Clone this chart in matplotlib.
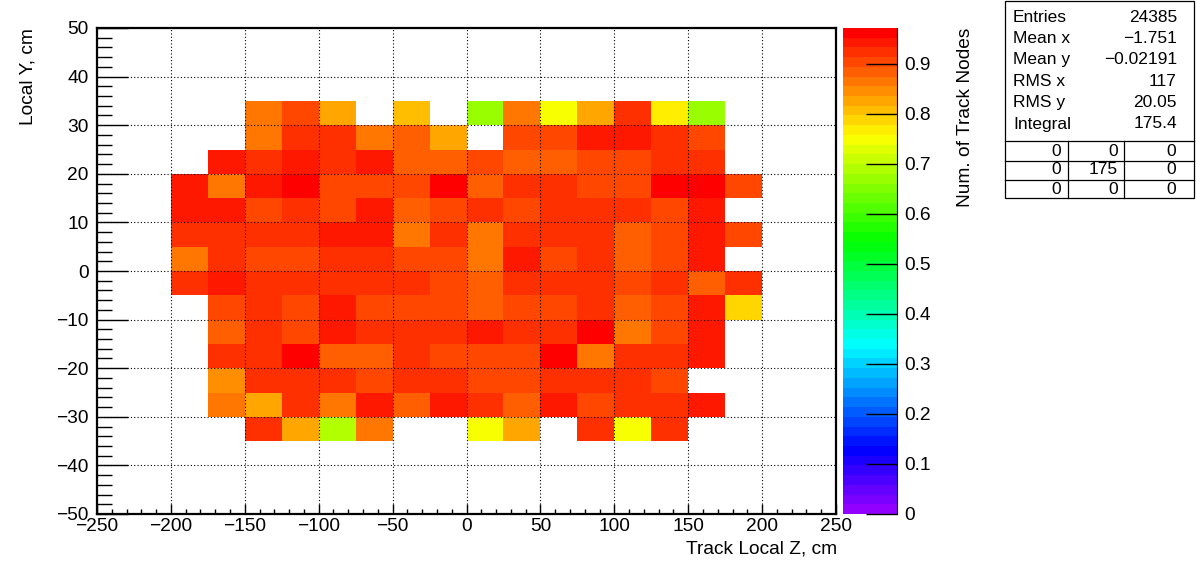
import colorsys
import numpy as np
import matplotlib
matplotlib.use("Agg")
import matplotlib.pyplot as plt
from matplotlib.colors import ListedColormap, Normalize
from matplotlib.patches import Rectangle
from matplotlib.lines import Line2D
from matplotlib.ticker import MultipleLocator

plt.rcParams['font.family'] = ['Liberation Sans', 'DejaVu Sans']

nan = np.nan
# bin edges
x_edges = np.arange(-200, 201, 25)
y_edges = np.arange(-35, 36, 5)

# fraction per cell, rows listed from top (30..35) to bottom (-35..-30)
rows_top_down = [
    [nan, nan, .866, .904, .826, nan, .807, nan, .67, .866, .748, .826, .925, .768, .67, nan],
    [nan, nan, .866, .925, .925, .866, .885, .826, nan, .904, .904, .945, .945, .925, .904, nan],
    [nan, .945, .925, .945, .925, .945, .885, .885, .904, .885, .885, .904, .904, .925, .925, nan],
    [.945, .866, .945, .965, .904, .904, .904, .965, .885, .925, .925, .904, .904, .965, .972, .904],
    [.945, .945, .904, .925, .904, .945, .885, .904, .925, .904, .925, .925, .925, .904, .945, nan],
    [.925, .925, .925, .925, .945, .945, .866, .925, .866, .925, .925, .925, .885, .904, .945, .904],
    [.866, .925, .904, .904, .925, .925, .904, .904, .866, .945, .904, .925, .885, .904, .945, nan],
    [.925, .945, .925, .925, .925, .925, .925, .904, .885, .925, .925, .925, .904, .925, .885, .925],
    [nan, .904, .925, .904, .945, .904, .904, .904, .885, .904, .904, .925, .885, .904, .945, .787],
    [nan, .885, .925, .904, .945, .925, .925, .925, .945, .925, .925, .965, .866, .904, .945, nan],
    [nan, .925, .925, .965, .885, .885, .925, .904, .904, .904, .965, .866, .925, .925, .945, nan],
    [nan, .846, .925, .925, .925, .904, .925, .925, .904, .904, .925, .925, .925, .904, nan, nan],
    [nan, .866, .826, .925, .866, .945, .885, .945, .925, .885, .945, .904, .925, .925, .945, nan],
    [nan, nan, .925, .826, .69, .866, nan, nan, .748, .826, nan, .925, .748, .925, nan, nan],
]
z_max = 0.972

stat_labels = ["Entries", "Mean x", "Mean y", "RMS x", "RMS y", "Integral"]
stat_values = ["24385", "\u22121.751", "\u22120.02191", "117", "20.05", "175.4"]
overflow = [["0", "0", "0"], ["0", "175", "0"], ["0", "0", "0"]]

# ROOT "pretty" palette, 50 colours
pal = []
for i in range(50):
    hue = 280 - (i + 1) * 280 / 50
    pal.append(colorsys.hls_to_rgb(hue / 360, 0.5, 1.0))
cmap = ListedColormap(pal)
norm = Normalize(0, z_max)

W, H = 1196, 572
def fx(x):
    return x / W
def fy(y):
    return 1 - y / H

FS = 13.8

fig = plt.figure(figsize=(W / 100, H / 100), dpi=100)
ax = fig.add_axes([fx(97), fy(514), fx(836) - fx(97), fy(28) - fy(514)])

Z = np.ma.masked_invalid(np.array(rows_top_down)[::-1])
mesh = ax.pcolormesh(x_edges, y_edges, Z, cmap=cmap, norm=norm, zorder=1)

ax.set_xlim(-250, 250)
ax.set_ylim(-50, 50)
ax.xaxis.set_major_locator(MultipleLocator(50))
ax.xaxis.set_minor_locator(MultipleLocator(10))
ax.yaxis.set_major_locator(MultipleLocator(10))
ax.yaxis.set_minor_locator(MultipleLocator(2))
ax.tick_params(axis='x', which='major', direction='in', length=7.5, width=1, labelsize=FS, pad=3)
ax.tick_params(axis='x', which='minor', direction='in', length=3.8, width=1)
ax.tick_params(axis='y', which='major', direction='in', length=22, width=1, labelsize=FS, pad=6)
ax.tick_params(axis='y', which='minor', direction='in', length=11, width=1)
ax.set_xticklabels([f"{int(v)}".replace("-", "\u2212") for v in ax.get_xticks()])
ax.set_yticklabels([f"{int(v)}".replace("-", "\u2212") for v in ax.get_yticks()])
ax.grid(True, which='major', color='black', linestyle=(0, (1, 2)), linewidth=0.8, zorder=2)
ax.set_axisbelow(False)
for s in ax.spines.values():
    s.set_linewidth(1.6)

fig.text(fx(837), fy(553), "Track Local Z, cm", ha='right', va='baseline', fontsize=FS)
fig.text(fx(28), fy(28), "Local Y, cm", ha='center', va='top', rotation=90, fontsize=FS)

# colour bar
cax = fig.add_axes([fx(843), fy(514), fx(897) - fx(843), fy(28) - fy(514)])
cb = fig.colorbar(mesh, cax=cax)
cb.outline.set_visible(False)
cb.set_ticks(np.arange(0, 0.95, 0.1))
cb.set_ticklabels(["0"] + [f"{v:.1f}" for v in np.arange(0.1, 0.95, 0.1)])
cax.tick_params(axis='y', which='major', direction='in', length=22, width=1, labelsize=FS, pad=5)
cax.minorticks_off()
fig.add_artist(Line2D([fx(897), fx(897)], [fy(514), fy(28)], color='black', linewidth=0.8))
fig.text(fx(965), fy(28), "Num. of Track Nodes", ha='center', va='top', rotation=90, fontsize=FS)

# stats box
fig.add_artist(Rectangle((fx(1005), fy(198)), fx(1194) - fx(1005), fy(1) - fy(198),
                         facecolor='white', edgecolor='black', linewidth=0.9))
for k, (lab, val) in enumerate(zip(stat_labels, stat_values)):
    yc = 17 + k * 21.4
    fig.text(fx(1013), fy(yc), lab, ha='left', va='center', fontsize=12.5)
    fig.text(fx(1177), fy(yc), val, ha='right', va='center', fontsize=12.5)
for yl in [141, 161, 180]:
    fig.add_artist(Line2D([fx(1005), fx(1194)], [fy(yl), fy(yl)], color='black', linewidth=0.9))
for xl in [1068, 1124]:
    fig.add_artist(Line2D([fx(xl), fx(xl)], [fy(141), fy(198)], color='black', linewidth=0.9))
col_right = [1061, 1118, 1176]
for r, row in enumerate(overflow):
    yc = 151 + r * 19
    for c, txt in enumerate(row):
        fig.text(fx(col_right[c]), fy(yc), txt, ha='right', va='center', fontsize=12.5)

fig.savefig("out.png", dpi=100)
